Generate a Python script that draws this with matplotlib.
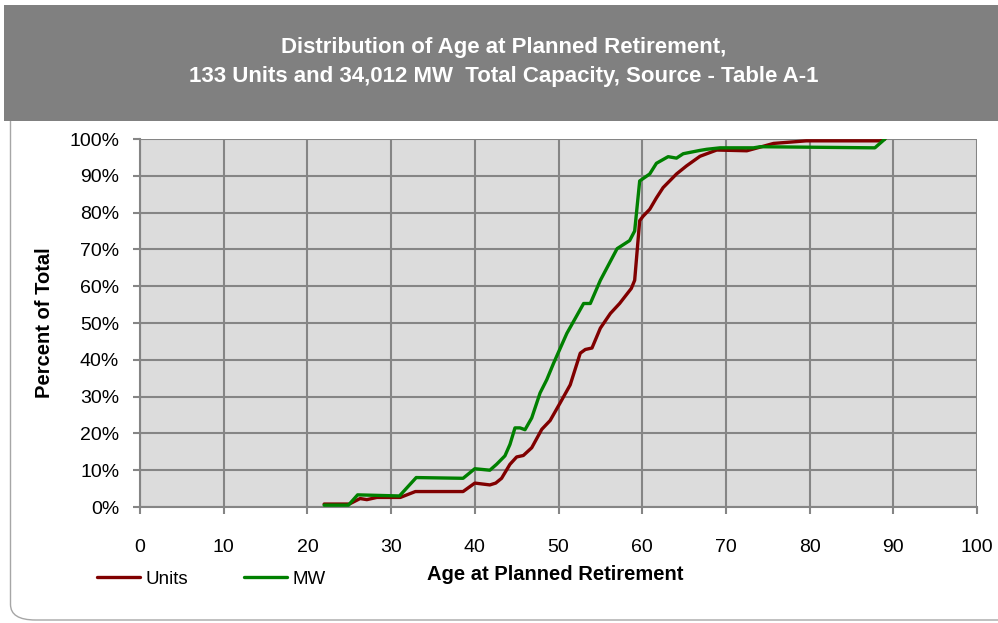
import matplotlib
matplotlib.use("Agg")
import matplotlib.pyplot as plt
from matplotlib.patches import Rectangle, FancyBboxPatch
from matplotlib.ticker import PercentFormatter

# ---- data ----
units_age = [22, 25, 26.3, 27.1, 28.3, 31.1, 32.9, 38.6, 40.0, 41.8, 42.5, 43.2, 44.2, 45.0, 45.8,
             46.8, 48.0, 49.0, 50.2, 51.4, 52.6, 53.2, 54.0, 55.0, 56.2, 57.3, 58.7, 59.1,
             59.7, 60.1, 60.9, 61.7, 62.5, 64.1, 65.3, 66.9, 68.9, 72.5, 73.3, 75.7, 79.6,
             88.4, 89]
units_pct = [0.8, 0.8, 2.3, 2.0, 2.6, 2.6, 4.2, 4.2, 6.5, 6.0, 6.5, 7.8, 11.6, 13.6, 14.0,
             16.1, 21.1, 23.5, 28.3, 33.2, 41.8, 42.8, 43.2, 48.6, 52.6, 55.3, 59.4, 61.6,
             77.8, 79.0, 80.9, 84.0, 86.8, 90.5, 92.7, 95.3, 97.0, 96.8, 97.3, 98.8, 99.5,
             99.5, 100]

mw_age = [22, 24.9, 26.0, 31.0, 33.0, 38.6, 40.0, 41.8, 42.6, 43.6, 44.2, 44.8, 45.4, 46.0,
          46.8, 47.8, 48.6, 49.4, 51.0, 53.0, 53.8, 55.0, 57.0, 58.5, 59.1, 59.7, 60.9,
          61.7, 63.1, 64.1, 64.9, 66.9, 67.7, 69.3, 73.3, 74.1, 87.8, 89]
mw_pct = [0.5, 0.5, 3.3, 3.0, 8.0, 7.8, 10.4, 10.0, 11.6, 13.9, 17.0, 21.5, 21.5, 21.0,
          24.2, 31.0, 34.6, 39.0, 47.2, 55.3, 55.3, 61.6, 70.2, 72.4, 75.0, 88.6, 90.5,
          93.4, 95.2, 94.8, 96.0, 96.9, 97.2, 97.6, 97.6, 97.9, 97.6, 100]

x_ticks = [0, 10, 20, 30, 40, 50, 60, 70, 80, 90, 100]
y_ticks = [0, 10, 20, 30, 40, 50, 60, 70, 80, 90, 100]

title = "Distribution of Age at Planned Retirement,\n133 Units and 34,012 MW  Total Capacity, Source - Table A-1"

plt.rcParams['font.family'] = ['Liberation Sans', 'DejaVu Sans']

W, H = 998, 623
fig = plt.figure(figsize=(W / 100, H / 100), dpi=100)
fig.patch.set_facecolor('white')

# outer rounded frame
frame = FancyBboxPatch((10.5 / W, 3 / H), (W + 40) / W, 1 - 3 / H - 6 / H,
                       boxstyle="round,pad=0,rounding_size=0.025",
                       transform=fig.transFigure, facecolor='white',
                       edgecolor='#a6a6a6', linewidth=1.0, zorder=-2)
fig.patches.append(frame)
# header band
fig.patches.append(Rectangle((4 / W, 1 - 121 / H), 1 - 4 / W, 116 / H,
                             transform=fig.transFigure, facecolor='#808080',
                             edgecolor='none', zorder=-1))
fig.text(504 / W, 1 - 62 / H, title, color='white', fontsize=16, fontweight='bold',
         ha='center', va='center', linespacing=1.45, zorder=2)

left, right, top, bottom = 140 / W, 977 / W, 139 / H, 507 / H
ax = fig.add_axes([left, 1 - bottom, right - left, bottom - top])
ax.set_zorder(5)
ax.set_facecolor('#dcdcdc')

ax.plot(units_age, units_pct, color='#800000', lw=2.4, label='Units', zorder=3,
        solid_joinstyle='round', solid_capstyle='round')
ax.plot(mw_age, mw_pct, color='#008000', lw=2.4, label='MW', zorder=4,
        solid_joinstyle='round', solid_capstyle='round')

ax.set_xlim(0, 100)
ax.set_ylim(0, 100)
ax.set_xticks(x_ticks)
ax.set_yticks(y_ticks)
ax.yaxis.set_major_formatter(PercentFormatter(decimals=0))
ax.grid(True, color='#858585', lw=1.5)
ax.set_axisbelow(True)
for s in ['top', 'right']:
    ax.spines[s].set_visible(False)
for s in ['left', 'bottom']:
    ax.spines[s].set_color('#858585')
    ax.spines[s].set_linewidth(1.5)
ax.tick_params(axis='both', direction='out', color='#858585', width=1.5, length=5,
               labelsize=14, labelcolor='black')
ax.tick_params(axis='x', pad=18)
ax.tick_params(axis='y', pad=10)

fig.text(555 / W, 1 - 575 / H, 'Age at Planned Retirement', fontsize=14.5,
         fontweight='bold', ha='center', va='center')
fig.text(45 / W, 1 - 323 / H, 'Percent of Total', fontsize=14.5, fontweight='bold',
         ha='center', va='center', rotation=90)

ax.legend(loc='center left', bbox_to_anchor=(97 / W, 1 - 579 / H),
          bbox_transform=fig.transFigure, ncol=2, frameon=False, fontsize=13.5,
          handlelength=2.3, handletextpad=0.27, columnspacing=3.0,
          borderpad=0, borderaxespad=0)

fig.savefig('out.png', dpi=100, facecolor='white')
